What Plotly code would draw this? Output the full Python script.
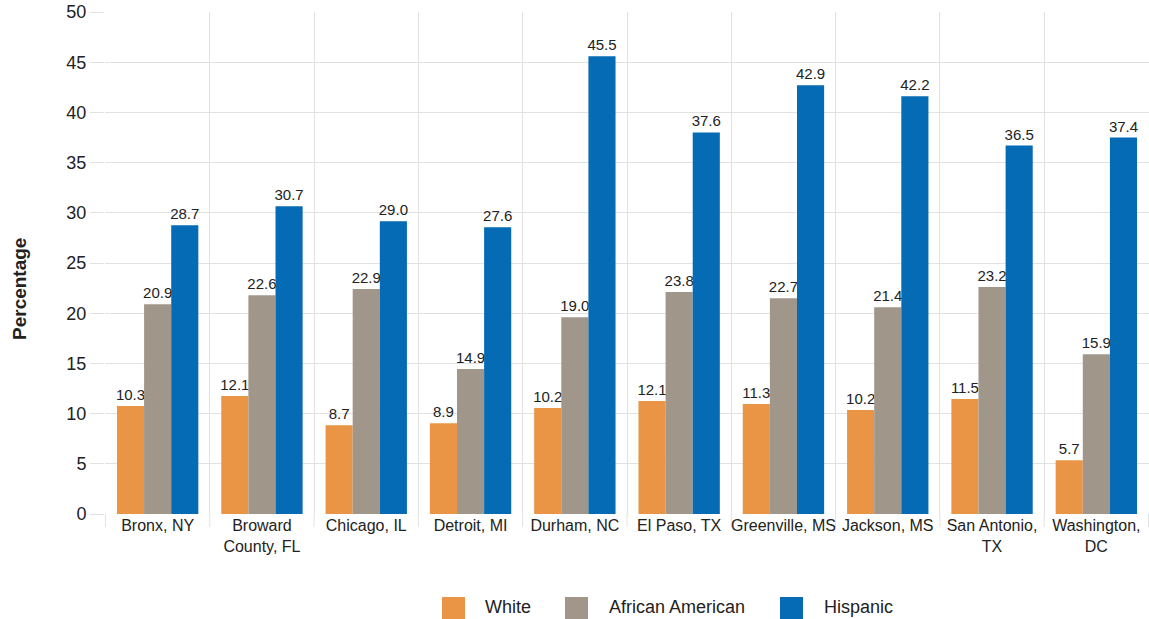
import plotly.graph_objects as go

categories = ["Bronx, NY", "Broward<br>County, FL", "Chicago, IL", "Detroit, MI",
              "Durham, NC", "El Paso, TX", "Greenville, MS", "Jackson, MS",
              "San Antonio,<br>TX", "Washington,<br>DC"]
series = ["White", "African American", "Hispanic"]

# bar heights as drawn
white_bar = [10.75, 11.75, 8.85, 9.05, 10.55, 11.25, 10.95, 10.35, 11.45, 5.35]
aa_bar = [20.9, 21.8, 22.4, 14.45, 19.6, 22.1, 21.5, 20.6, 22.6, 15.9]
hisp_bar = [28.75, 30.65, 29.15, 28.55, 45.6, 38.0, 42.7, 41.6, 36.7, 37.5]

# printed value labels
white_label = [10.3, 12.1, 8.7, 8.9, 10.2, 12.1, 11.3, 10.2, 11.5, 5.7]
aa_label = [20.9, 22.6, 22.9, 14.9, 19.0, 23.8, 22.7, 21.4, 23.2, 15.9]
hisp_label = [28.7, 30.7, 29.0, 27.6, 45.5, 37.6, 42.9, 42.2, 36.5, 37.4]

colors = ["#E99545", "#A0978A", "#046BB4"]
FONT = "Liberation Sans, Arial, sans-serif"
TXT = "#222222"
GRID = "#e2e2e2"

W, H = 1149, 619
ML, MR, MT, MB = 105, 0, 12, 105
PW, PH = W - ML - MR, H - MT - MB

def px_x(px):
    return (px - ML) / PW

def px_y(py):
    return (H - MB - py) / PH

fig = go.Figure()
for name, bars, labels, col in zip(series, [white_bar, aa_bar, hisp_bar],
                                   [white_label, aa_label, hisp_label], colors):
    fig.add_trace(go.Bar(
        x=categories, y=bars, name=name, marker_color=col, marker_line_width=0,
        text=[f"{v:.1f}" for v in labels], textposition="outside",
        textfont=dict(size=15, color=TXT, family=FONT),
        constraintext="none", cliponaxis=False, showlegend=False,
    ))

shapes = []
# downward extensions of the category boundary grid lines
for i in range(len(categories) + 1):
    shapes.append(dict(type="line", xref="x", yref="paper",
                       x0=i - 0.5, x1=i - 0.5, y0=0, y1=-13 / PH,
                       line=dict(color=GRID, width=1), layer="below"))

annotations = [dict(text="<b>Percentage</b>", xref="paper", yref="paper",
                    x=px_x(19), y=px_y(289), textangle=-90, showarrow=False,
                    xanchor="center", yanchor="middle",
                    font=dict(size=19, color=TXT, family=FONT))]

# custom legend with large swatches
legend_sw = [442, 565, 780]
legend_tx = [483, 607, 822]
for name, col, sx, tx in zip(series, colors, legend_sw, legend_tx):
    shapes.append(dict(type="rect", xref="paper", yref="paper",
                       x0=px_x(sx), x1=px_x(sx + 23), y0=px_y(597), y1=px_y(620),
                       fillcolor=col, line=dict(width=0)))
    annotations.append(dict(text=name, xref="paper", yref="paper",
                            x=px_x(tx), y=px_y(607), showarrow=False,
                            xanchor="left", yanchor="middle",
                            font=dict(size=18, color=TXT, family=FONT)))

fig.update_layout(
    width=W, height=H, autosize=False,
    margin=dict(l=ML, r=MR, t=MT, b=MB, pad=0, autoexpand=False),
    paper_bgcolor="white", plot_bgcolor="white",
    barmode="group", bargap=0.22, bargroupgap=0,
    font=dict(family=FONT, color=TXT),
    shapes=shapes, annotations=annotations,
    showlegend=False,
)
fig.update_xaxes(type="category", tickson="boundaries", showgrid=True,
                 gridcolor=GRID, gridwidth=1, ticks="", showline=False,
                 zeroline=False, tickangle=0, automargin=False,
                 tickfont=dict(size=16, color=TXT, family=FONT))
fig.update_yaxes(range=[0, 50], dtick=5, showgrid=True, gridcolor=GRID,
                 gridwidth=1, ticks="outside", ticklen=14, tickcolor=GRID,
                 tickwidth=1, zeroline=False, showline=False, automargin=False,
                 tickfont=dict(size=18, color=TXT, family=FONT))

fig.write_html("out.html")
